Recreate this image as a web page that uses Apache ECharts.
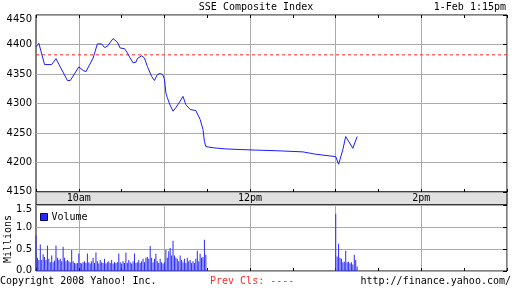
<!DOCTYPE html>
<html><head><meta charset="utf-8">
<script src="https://cdn.jsdelivr.net/npm/echarts@6/dist/echarts.min.js"></script>
<style>html,body{margin:0;padding:0;background:#fff}#c{width:512px;height:288px}</style>
</head><body><div id="c"></div>
<script>
const titleText = 'SSE Composite Index';
const dateText = '1-Feb 1:15pm';
const priceTimes = ['9:30','9:32','9:36','9:41','9:44','9:52','9:54','10:00','10:03','10:05','10:06','10:10','10:13','10:16','10:18','10:20','10:24','10:25','10:27','10:29','10:32','10:34','10:36','10:38','10:40','10:41','10:44','10:46','10:48','10:51','10:53','10:55','10:57','10:59','11:00','11:01','11:02','11:04','11:06','11:08','11:11','11:13','11:15','11:18','11:22','11:25','11:27','11:28','11:29','11:30','11:34','11:43','11:53','12:04','12:18','12:37','12:46','13:00','13:02','13:03','13:05','13:07','13:08','13:12','13:15'];
const priceValues = [4396,4402,4366,4366,4376,4339,4339,4362,4356,4354,4356,4377,4401,4401,4395,4397,4410,4408,4404,4394,4393,4386,4377,4369,4370,4376,4381,4377,4363,4346,4339,4349,4351,4348,4341,4318,4310,4297,4287,4293,4304,4312,4298,4290,4288,4273,4256,4236,4227,4227,4225,4223,4222,4221,4220,4218,4214,4210,4197,4205,4222,4244,4244,4224,4244];
const prevClose = 4382.5;
const xTickTimes = ['10:00','12:00','14:00'];
const xTickLabels = ['10am','12pm','2pm'];
const volMorningStart = '9:30';
const volMorning = [0.80,0.30,0.25,0.60,0.25,0.38,0.32,0.25,0.58,0.28,0.20,0.35,0.20,0.24,0.58,0.30,0.25,0.28,0.22,0.55,0.30,0.22,0.25,0.22,0.20,0.48,0.22,0.18,0.17,0.18,0.40,0.18,0.17,0.20,0.22,0.18,0.40,0.20,0.17,0.22,0.30,0.18,0.42,0.22,0.17,0.25,0.20,0.18,0.28,0.17,0.20,0.22,0.18,0.25,0.17,0.20,0.18,0.20,0.40,0.20,0.17,0.22,0.18,0.42,0.18,0.25,0.20,0.17,0.22,0.40,0.18,0.20,0.25,0.18,0.22,0.28,0.20,0.30,0.32,0.28,0.57,0.30,0.20,0.28,0.39,0.22,0.18,0.28,0.20,0.17,0.20,0.48,0.30,0.45,0.52,0.35,0.69,0.35,0.30,0.28,0.22,0.35,0.25,0.20,0.28,0.18,0.30,0.22,0.25,0.18,0.22,0.18,0.28,0.46,0.22,0.39,0.30,0.32,0.71,0.37,0.03];
const volAfternoonStart = '13:00';
const volAfternoon = [1.30,0.33,0.62,0.30,0.28,0.20,0.21,0.46,0.20,0.21,0.17,0.20,0.15,0.37,0.25,0.10];

const toMin = s => { const p = s.split(':').map(Number); return p[0]*60 + p[1]; };
const xTickMins = xTickTimes.map(toMin);
const priceData = priceTimes.map((t,i) => [toMin(t), priceValues[i]]);
const volData = [];
volMorning.forEach((v,i) => volData.push([toMin(volMorningStart)+i, v]));
volAfternoon.forEach((v,i) => volData.push([toMin(volAfternoonStart)+i, v]));

const MONO = 'DejaVu Sans Mono';
const SANS = 'DejaVu Sans';
const X_MIN = 570, X_MAX = 900;
const GRIDC = '#aaaaaa';
const REDC = '#ff2a2a';

const chart = echarts.init(document.getElementById('c'), null, {renderer:'canvas'});
const xCommon = {type:'value', min:X_MIN, max:X_MAX, interval:30, axisLine:{show:false}};
const yLab = (max, min, fmt) => ({
  fontFamily: SANS, fontSize: 10, color:'#000', margin: 4,
  formatter: v => {
    const s = fmt(v);
    if (v === max) return '{t|' + s + '}';
    if (v === min) return '{b|' + s + '}';
    return s;
  },
  rich: {
    t: {fontFamily: SANS, fontSize: 10, color:'#000', padding:[9,0,0,0]},
    b: {fontFamily: SANS, fontSize: 10, color:'#000', padding:[0,0,2,0]}
  }
});
chart.setOption({
  animation:false,
  backgroundColor:'#fff',
  grid:[
    {left:36, top:15, width:471, height:177, show:true, borderColor:'#000', borderWidth:1, backgroundColor:'rgba(0,0,0,0)'},
    {left:36, top:205, width:471, height:66, show:true, borderColor:'#000', borderWidth:1, backgroundColor:'rgba(0,0,0,0)'}
  ],
  legend:{
    data:['Volume'], left:40, top:212, padding:0, icon:'rect', itemWidth:7, itemHeight:7, itemGap:4,
    textStyle:{fontFamily:MONO, fontSize:10, color:'#000', padding:[0,0,0,-1]},
    itemStyle:{borderColor:'#000066', borderWidth:1}
  },
  xAxis:[
    Object.assign({}, xCommon, {gridIndex:0, position:'bottom',
      axisTick:{show:true, inside:true, length:3, lineStyle:{color:'#000'}},
      axisLabel:{show:true, margin:1, fontFamily:MONO, fontSize:10, color:'#000',
        formatter: v => { const i = xTickMins.indexOf(v); return i >= 0 ? xTickLabels[i] : ''; }},
      splitLine:{show:true, lineStyle:{color:['rgba(0,0,0,0)', GRIDC], width:1}}}),
    Object.assign({}, xCommon, {gridIndex:0, position:'top',
      axisTick:{show:true, inside:true, length:3, lineStyle:{color:'#000'}},
      axisLabel:{show:false}, splitLine:{show:false}}),
    Object.assign({}, xCommon, {gridIndex:1, position:'bottom',
      axisTick:{show:true, inside:true, length:3, lineStyle:{color:'#000'}},
      axisLabel:{show:false},
      splitLine:{show:true, lineStyle:{color:['rgba(0,0,0,0)', GRIDC], width:1}}})
  ],
  yAxis:[
    {gridIndex:0, type:'value', min:4150, max:4450, interval:50, position:'left',
      axisLine:{show:false}, axisTick:{show:false},
      axisLabel: yLab(4450, 4150, v => String(v)),
      splitLine:{show:true, lineStyle:{color:GRIDC, width:1}}},
    {gridIndex:0, type:'value', min:4150, max:4450, interval:50, position:'right',
      axisLine:{show:false}, axisTick:{show:true, inside:true, length:4, lineStyle:{color:'#000'}},
      axisLabel:{show:false}, splitLine:{show:false}},
    {gridIndex:1, type:'value', min:0, max:1.5, interval:0.5, position:'left',
      axisLine:{show:false}, axisTick:{show:false},
      axisLabel: yLab(1.5, 0, v => v.toFixed(1)),
      splitLine:{show:true, lineStyle:{color:GRIDC, width:1}}},
    {gridIndex:1, type:'value', min:0, max:1.5, interval:0.5, position:'right',
      axisLine:{show:false}, axisTick:{show:true, inside:true, length:4, lineStyle:{color:'#000'}},
      axisLabel:{show:false}, splitLine:{show:false}}
  ],
  series:[
    {name:'Prev Close', type:'line', xAxisIndex:0, yAxisIndex:0,
      data:[[X_MIN, prevClose],[X_MAX, prevClose]], showSymbol:false, symbol:'none', silent:true, z:3,
      color:REDC, lineStyle:{color:REDC, type:[3,3], width:1}},
    {name:'Price', type:'line', xAxisIndex:0, yAxisIndex:0, data:priceData, showSymbol:false, symbol:'none',
      lineStyle:{color:'#1c1cff', width:1}, z:5},
    {name:'Volume', type:'bar', xAxisIndex:2, yAxisIndex:2, data:volData, barWidth:1,
      itemStyle:{color:'#2a2af8'}}
  ],
  graphic:[
    {type:'rect', z:-10, shape:{x:36, y:192, width:471, height:13}, style:{fill:'#e0e0e0', stroke:'#000', lineWidth:1}},
    {type:'text', x:256, y:7, style:{text:titleText, font:'10px "DejaVu Sans Mono"', fill:'#000', textAlign:'center', textVerticalAlign:'middle'}},
    {type:'text', x:506, y:7, style:{text:dateText, font:'10px "DejaVu Sans Mono"', fill:'#000', textAlign:'right', textVerticalAlign:'middle'}},
    {type:'text', x:8, y:239, rotation:Math.PI/2, style:{text:'Millions', font:'10px "DejaVu Sans Mono"', fill:'#000', textAlign:'center', textVerticalAlign:'middle'}},
    {type:'text', x:0, y:281, style:{text:'Copyright 2008 Yahoo! Inc.', font:'10px "DejaVu Sans Mono"', fill:'#000', textAlign:'left', textVerticalAlign:'middle'}},
    {type:'text', x:210, y:281, style:{text:'Prev Cls: ----', font:'10px "DejaVu Sans Mono"', fill:REDC, textAlign:'left', textVerticalAlign:'middle'}},
    {type:'text', x:511, y:281, style:{text:'http://finance.yahoo.com/', font:'10px "DejaVu Sans Mono"', fill:'#000', textAlign:'right', textVerticalAlign:'middle'}}
  ]
});
</script>
</body></html>
